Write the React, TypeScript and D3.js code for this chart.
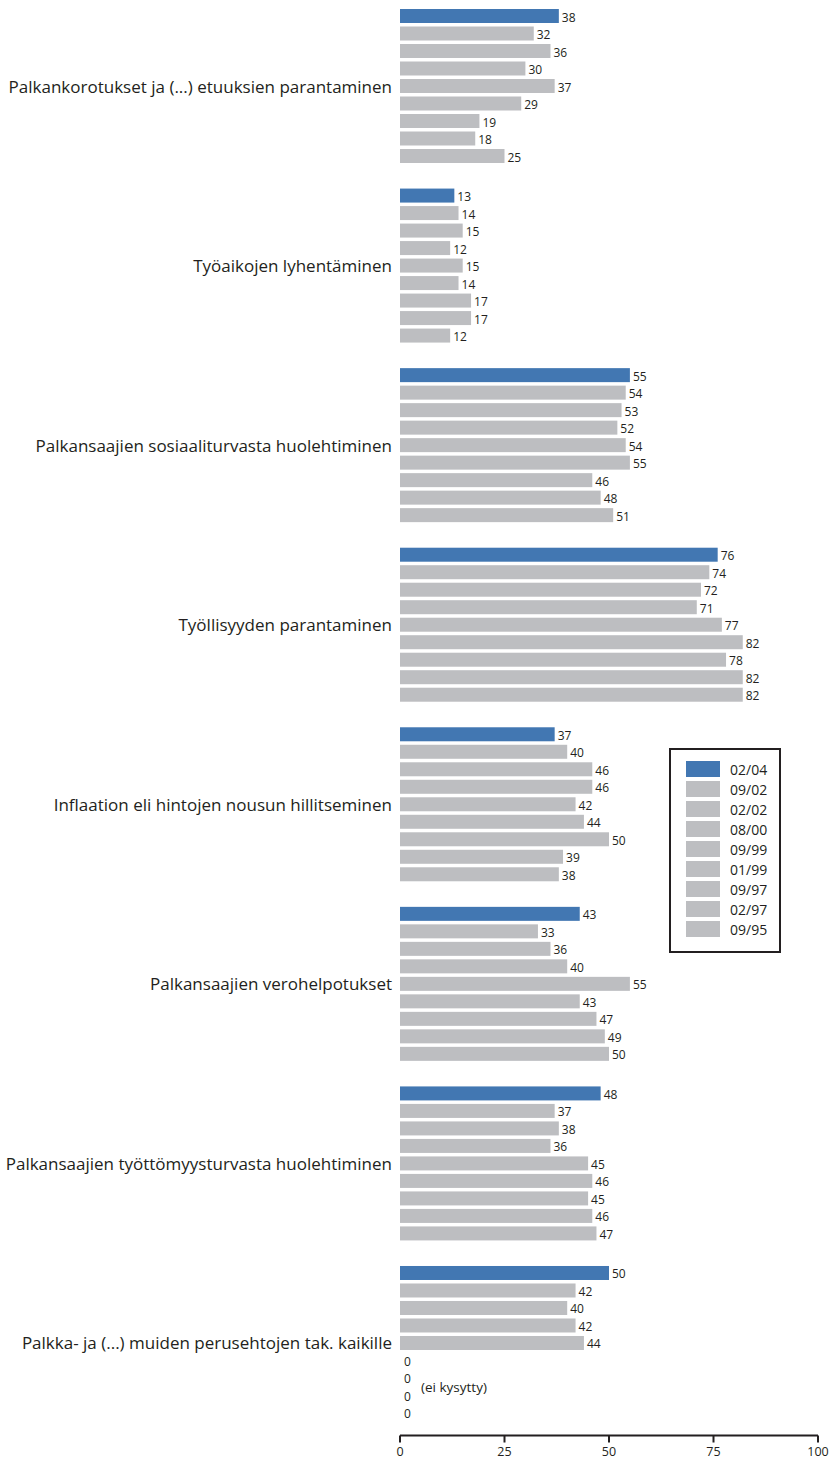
import React from 'react';
import * as d3 from 'd3';

const categories = [
  'Palkankorotukset ja (...) etuuksien parantaminen',
  'Työaikojen lyhentäminen',
  'Palkansaajien sosiaaliturvasta huolehtiminen',
  'Työllisyyden parantaminen',
  'Inflaation eli hintojen nousun hillitseminen',
  'Palkansaajien verohelpotukset',
  'Palkansaajien työttömyysturvasta huolehtiminen',
  'Palkka- ja (...) muiden perusehtojen tak. kaikille',
];

const periods = ['02/04', '09/02', '02/02', '08/00', '09/99', '01/99', '09/97', '02/97', '09/95'];

// one row per category, one value per period
const values = [
  [38, 32, 36, 30, 37, 29, 19, 18, 25],
  [13, 14, 15, 12, 15, 14, 17, 17, 12],
  [55, 54, 53, 52, 54, 55, 46, 48, 51],
  [76, 74, 72, 71, 77, 82, 78, 82, 82],
  [37, 40, 46, 46, 42, 44, 50, 39, 38],
  [43, 33, 36, 40, 55, 43, 47, 49, 50],
  [48, 37, 38, 36, 45, 46, 45, 46, 47],
  [50, 42, 40, 42, 44, 0, 0, 0, 0],
];

const xTicks = [0, 25, 50, 75, 100];
const notAsked = '(ei kysytty)';

const BLUE = '#4277b2';
const GREY = '#bdbec1';
const FONT = '"Open Sans", "Noto Sans", sans-serif';

const W = 833;
const H = 1459;

const App: React.FC = () => {
  const x = d3.scaleLinear().domain([0, 100]).range([400, 818]);
  const y0 = d3.scaleBand<string>()
    .domain(categories)
    .range([7.25, 7.25 + 8 * 179.57 - 22.07])
    .paddingInner(22.07 / 179.57)
    .paddingOuter(0);
  const y1 = d3.scaleBand<string>()
    .domain(periods)
    .range([0, 157.5])
    .paddingInner(0.2)
    .paddingOuter(0.1);
  const axisY = 1435.5;

  const legendRow = d3.scaleBand<string>().domain(periods).range([759, 939]);

  return (
    <svg width={W} height={H} style={{ position: 'absolute', left: 0, top: 0 }} fontFamily={FONT}>
      <rect width={W} height={H} fill="#fff" />
      {categories.map((cat, ci) => {
        const gy = y0(cat)!;
        return (
          <g key={cat} transform={`translate(0,${gy})`}>
            <text
              x={392}
              y={y1(periods[4])! + y1.bandwidth() / 2}
              textAnchor="end"
              dominantBaseline="central"
              fontSize={17}
              fill="#231f20"
            >
              {cat}
            </text>
            {periods.map((p, pi) => {
              const v = values[ci][pi];
              const by = y1(p)!;
              return (
                <g key={p}>
                  {v > 0 && (
                    <rect
                      x={x(0)}
                      y={by}
                      width={x(v) - x(0)}
                      height={y1.bandwidth()}
                      fill={pi === 0 ? BLUE : GREY}
                    />
                  )}
                  <text
                    x={x(v) + (v > 0 ? 3 : 4)}
                    y={by + y1.bandwidth() / 2 + 1}
                    dominantBaseline="central"
                    fontSize={12}
                    fill="#231f20"
                  >
                    {v}
                  </text>
                </g>
              );
            })}
            {values[ci].some(v => v === 0) && (
              <text
                x={421}
                y={(y1(periods[6])! + y1(periods[7])! + y1.bandwidth()) / 2}
                dominantBaseline="central"
                fontSize={13.5}
                fill="#231f20"
              >
                {notAsked}
              </text>
            )}
          </g>
        );
      })}

      {/* axis */}
      <line x1={x(0)} x2={x(100)} y1={axisY} y2={axisY} stroke="#231f20" strokeWidth={2} />
      {xTicks.map(t => (
        <g key={t} transform={`translate(${x(t)},0)`}>
          <line y1={axisY} y2={axisY + 7} stroke="#231f20" strokeWidth={2} />
          <text y={axisY + 15.5} textAnchor="middle" dominantBaseline="central" fontSize={12.5} fill="#231f20">
            {t}
          </text>
        </g>
      ))}

      {/* legend */}
      <rect x={670} y={749} width={110} height={203} fill="#fff" stroke="#231f20" strokeWidth={2} />
      {periods.map((p, i) => (
        <g key={p} transform={`translate(0,${legendRow(p)!})`}>
          <rect x={686} y={2} width={34} height={16} fill={i === 0 ? BLUE : GREY} />
          <text x={730} y={10} dominantBaseline="central" fontSize={14} fill="#231f20">
            {p}
          </text>
        </g>
      ))}
    </svg>
  );
};

export default App;
